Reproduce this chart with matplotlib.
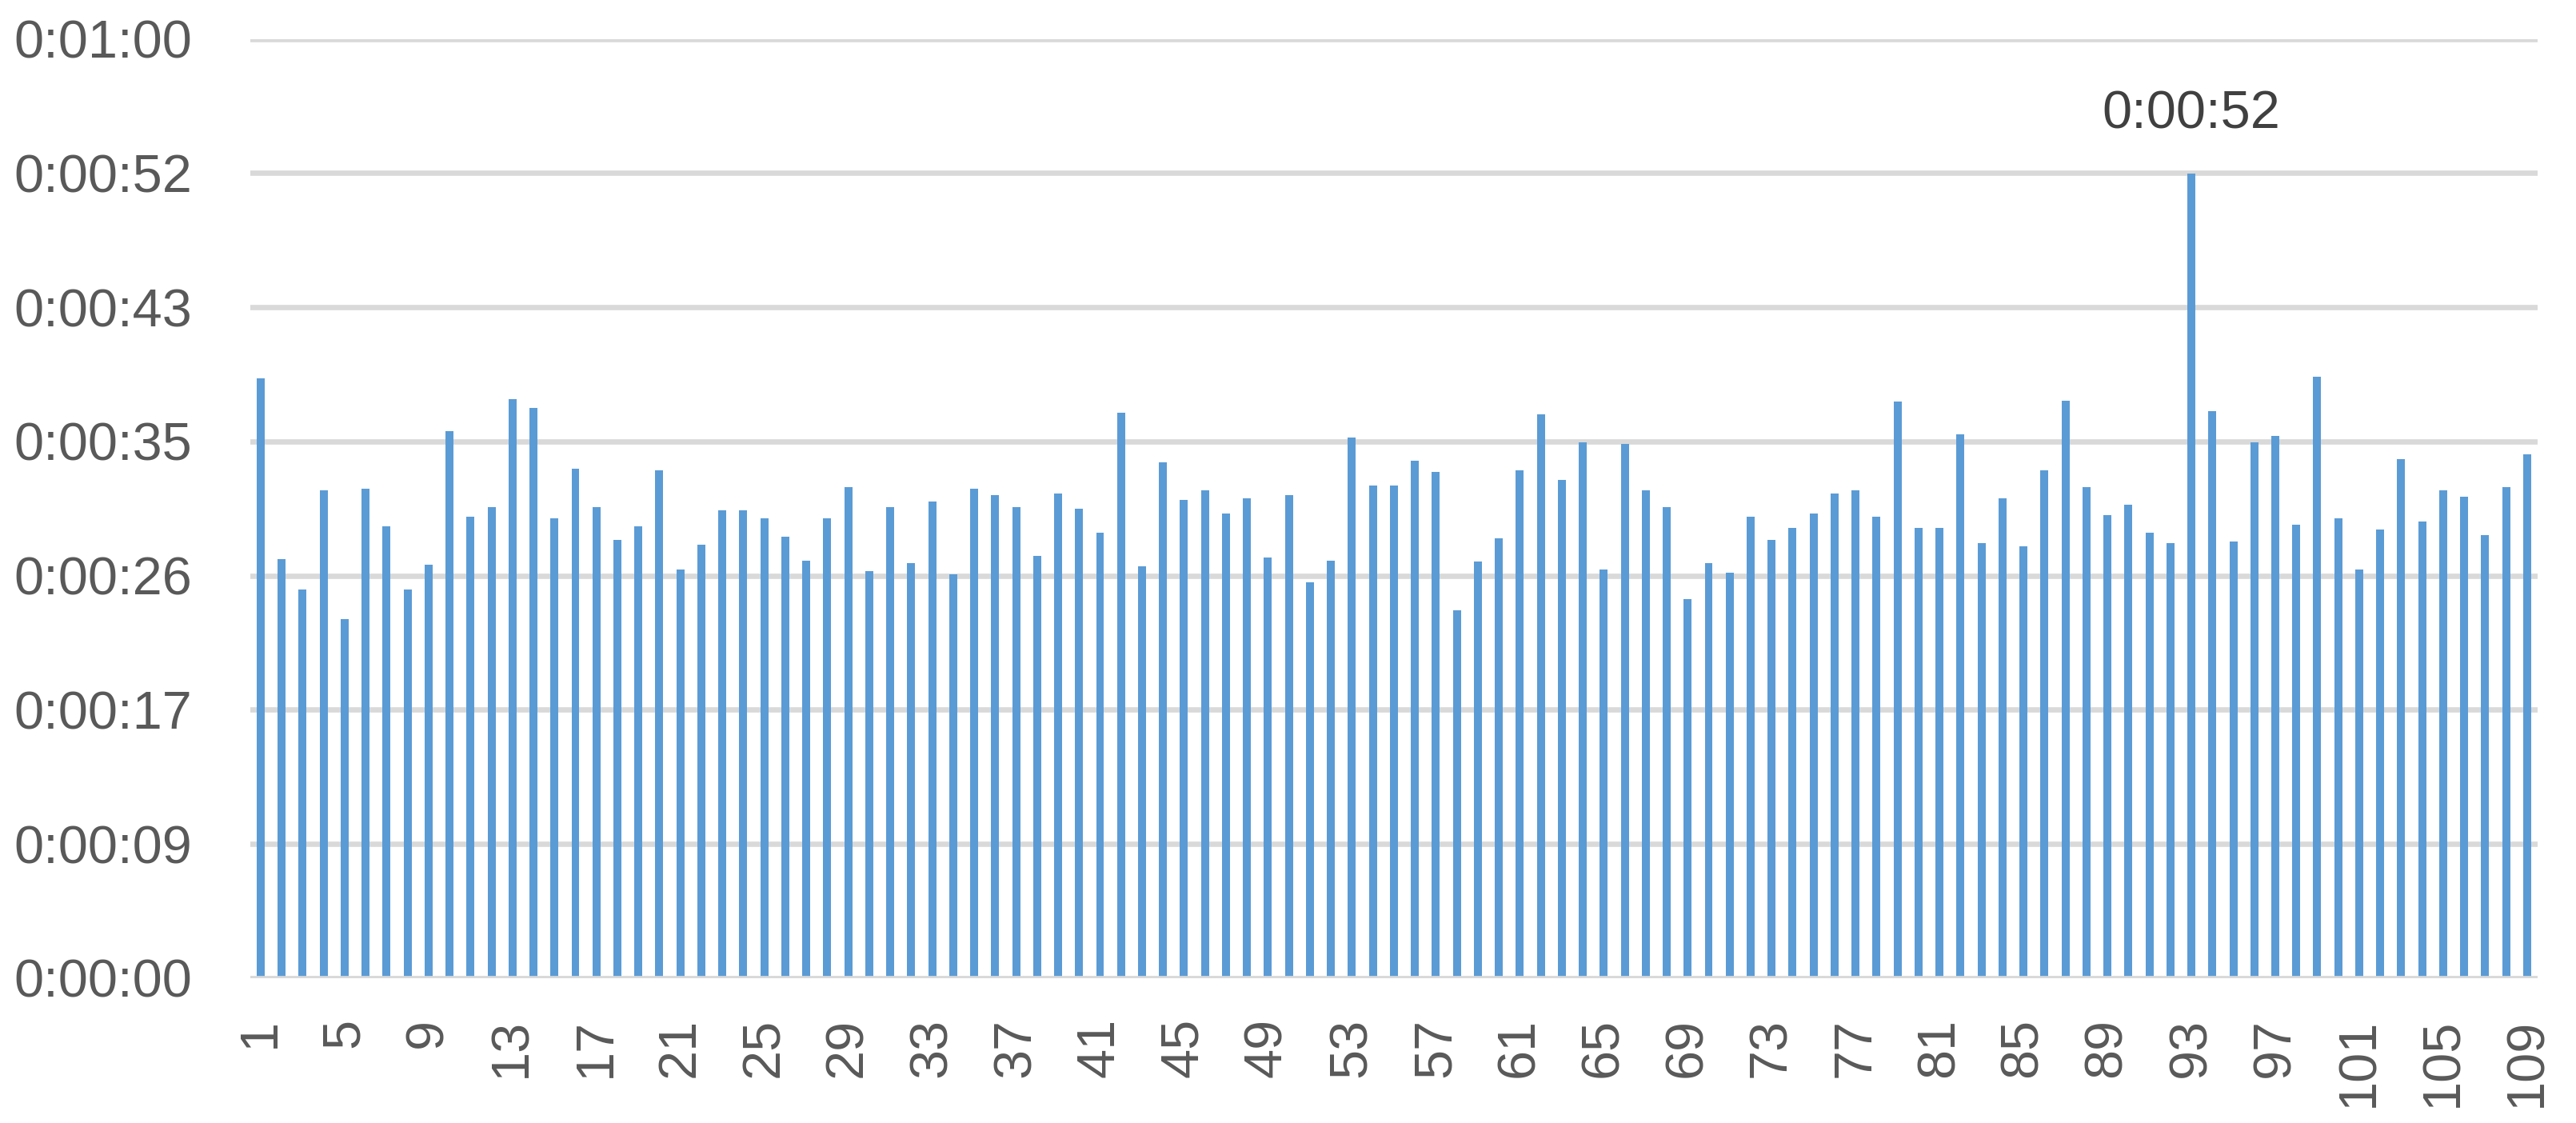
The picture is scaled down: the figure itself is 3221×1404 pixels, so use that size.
import numpy as np
import matplotlib
matplotlib.use("Agg")
import matplotlib.pyplot as plt
from matplotlib.ticker import FuncFormatter, MultipleLocator

plt.rcParams['font.family'] = ['Liberation Sans', 'DejaVu Sans']

# Datos: duracion de cada ensayo (segundos)
ensayos = np.arange(1, 110)
duracion = np.array([
    38.6, 27.0, 25.0, 31.4, 23.1, 31.5, 29.1, 25.0, 26.6, 35.2,
    29.7, 30.3, 37.3, 36.7, 29.6, 32.8, 30.3, 28.2, 29.1, 32.7,
    26.3, 27.9, 30.1, 30.1, 29.6, 28.4, 26.9, 29.6, 31.6, 26.2,
    30.3, 26.7, 30.7, 26.0, 31.5, 31.1, 30.3, 27.2, 31.2, 30.2,
    28.7, 36.4, 26.5, 33.2, 30.8, 31.4, 29.9, 30.9, 27.1, 31.1,
    25.5, 26.9, 34.8, 31.7, 31.7, 33.3, 32.6, 23.7, 26.8, 28.3,
    32.7, 36.3, 32.1, 34.5, 26.3, 34.4, 31.4, 30.3, 24.4, 26.7,
    26.1, 29.7, 28.2, 29.0, 29.9, 31.2, 31.4, 29.7, 37.1, 29.0,
    29.0, 35.0, 28.0, 30.9, 27.8, 32.7, 37.2, 31.6, 29.8, 30.5,
    28.7, 28.0, 51.8, 36.5, 28.1, 34.5, 34.9, 29.2, 38.7, 29.6,
    26.3, 28.9, 33.4, 29.4, 31.4, 31.0, 28.5, 31.6, 33.7,
])
etiquetas_x = [str(n) for n in ensayos[::4]]
paso_y = 8.64  # 0.0001 dias
max_y = 60.48


def formato_hms(s, pos=None):
    s = int(round(s))
    return f"{s // 3600}:{(s // 60) % 60:02d}:{s % 60:02d}"


fig = plt.figure(figsize=(32.21, 14.04), dpi=100)
ax = fig.add_axes([0.0971, 0.1291, 0.888, 0.8363])

ax.bar(ensayos, duracion, width=0.38, color='#5B9BD5', zorder=2)

# Etiqueta del maximo
i_max = int(np.argmax(duracion))
ax.annotate(formato_hms(duracion[i_max]), (ensayos[i_max], duracion[i_max]),
            xytext=(0, 41), textcoords='offset points', ha='center', va='baseline',
            fontsize=48, color='#404040')

ax.set_xlim(0.5, 109.5)
ax.set_ylim(0, max_y)
ax.yaxis.set_major_locator(MultipleLocator(paso_y))
ax.yaxis.set_major_formatter(FuncFormatter(formato_hms))
ax.set_xticks(ensayos[::4])
ax.set_xticklabels(etiquetas_x)

ax.grid(axis='y', color='#D9D9D9', linewidth=4.8)
ax.set_axisbelow(True)
ax.axhline(0, color='#D9D9D9', linewidth=4.8, zorder=3)
for sp in ax.spines.values():
    sp.set_visible(False)

ax.tick_params(axis='y', length=0, pad=52, labelsize=48, labelcolor='#595959')
ax.tick_params(axis='x', length=0, pad=36, labelsize=48, labelcolor='#595959', labelrotation=90)

plt.savefig('out.png', dpi=100)
